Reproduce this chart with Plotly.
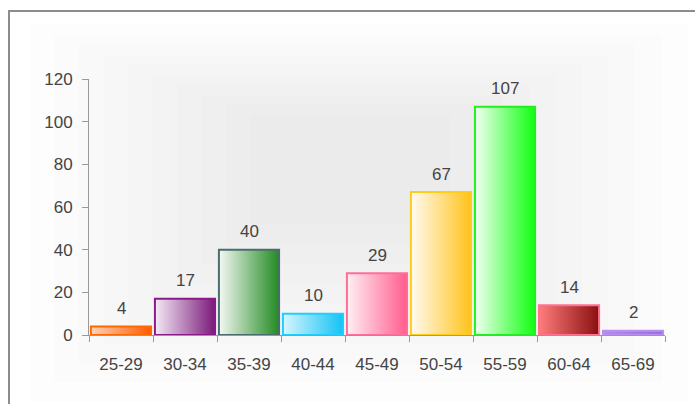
import plotly.graph_objects as go

# ---- data ----
categories = ["25-29", "30-34", "35-39", "40-44", "45-49", "50-54", "55-59", "60-64", "65-69"]
counts = [4, 17, 40, 10, 29, 67, 107, 14, 2]
y_ticks = [0, 20, 40, 60, 80, 100, 120]

# ---- styles ----
light_colors = ["#FFD2B8", "#F4EAF4", "#F4F8F4", "#D8F6FF", "#FFF0F4", "#FFFBF2", "#F2FFF2", "#FF7C7C", "#B48AEE"]
dark_colors = ["#FF5A00", "#7A1A7A", "#228B22", "#14C2F5", "#FF5C8F", "#FFC21A", "#10FF10", "#8A1010", "#9E6BE0"]
border_colors = ["#FF6A00", "#8A1A8A", "#4A6E6E", "#1ECFFF", "#FF6E98", "#FFCC1A", "#22EE22", "#FF7090", "#B890F2"]

W, H = 695, 404
ML, MR, MT, MB = 89, 30, 79, 69
PW, PH = W - ML - MR, H - MT - MB


def px_x(x):
    return (x - ML) / PW


def px_y(y):
    return (H - MB - y) / PH


fig = go.Figure()

half = 0.47
for i, (cat, v) in enumerate(zip(categories, counts)):
    fig.add_trace(go.Scatter(
        x=[i - half, i - half, i + half, i + half, i - half],
        y=[0, v, v, 0, 0],
        mode="lines",
        fill="toself",
        line=dict(color=border_colors[i], width=2),
        fillgradient=dict(type="horizontal",
                          colorscale=[[0, light_colors[i]], [1, dark_colors[i]]]),
        hoverinfo="skip",
        showlegend=False,
        name=cat,
    ))

annotations = []
for i, v in enumerate(counts):
    annotations.append(dict(
        x=i, y=v, xref="x", yref="y", text=str(v), showarrow=False,
        yshift=18, yanchor="middle",
        font=dict(family="Liberation Sans, Arial, sans-serif", size=17, color="#444444"),
    ))

shapes = []
# soft background gradient (nested translucent rectangles)
outer = (30, 25, 688, 402)
inner = (250, 115, 450, 225)
n = 10
for k in range(n):
    t = k / (n - 1)
    x0 = outer[0] + (inner[0] - outer[0]) * t
    y0 = outer[1] + (inner[1] - outer[1]) * t
    x1 = outer[2] + (inner[2] - outer[2]) * t
    y1 = outer[3] + (inner[3] - outer[3]) * t
    shapes.append(dict(
        type="rect", xref="paper", yref="paper",
        x0=px_x(x0), x1=px_x(x1), y0=px_y(y1), y1=px_y(y0),
        fillcolor="rgba(0,0,0,0.0075)", line=dict(width=0), layer="below",
    ))
# outer frame
shapes.append(dict(
    type="rect", xref="paper", yref="paper",
    x0=px_x(9), x1=px_x(730), y0=px_y(440), y1=px_y(11),
    fillcolor="rgba(0,0,0,0)", line=dict(color="#8C8C8C", width=2), layer="above",
))

fig.update_layout(
    width=W, height=H,
    margin=dict(l=ML, r=MR, t=MT, b=MB, pad=0),
    paper_bgcolor="white",
    plot_bgcolor="rgba(0,0,0,0)",
    font=dict(family="Liberation Sans, Arial, sans-serif", size=17, color="#444444"),
    showlegend=False,
    shapes=shapes,
    annotations=annotations,
    xaxis=dict(
        type="linear", range=[-0.5, 8.5],
        tickmode="array", tickvals=list(range(len(categories))), ticktext=categories,
        ticks="", showgrid=False, zeroline=False,
        showline=True, linecolor="#999999", linewidth=1,
        ticklabelstandoff=14,
        minor=dict(tickmode="array", tickvals=[i - 0.5 for i in range(len(categories) + 1)],
                   ticks="outside", ticklen=6, tickcolor="#999999", tickwidth=1, showgrid=False),
        fixedrange=True,
    ),
    yaxis=dict(
        range=[0, 120], tickmode="array", tickvals=y_ticks,
        ticks="outside", ticklen=6, tickcolor="#999999", tickwidth=1,
        showgrid=False, zeroline=False,
        showline=True, linecolor="#999999", linewidth=1,
        ticklabelstandoff=6,
        fixedrange=True,
    ),
)

fig.write_html("out.html")
